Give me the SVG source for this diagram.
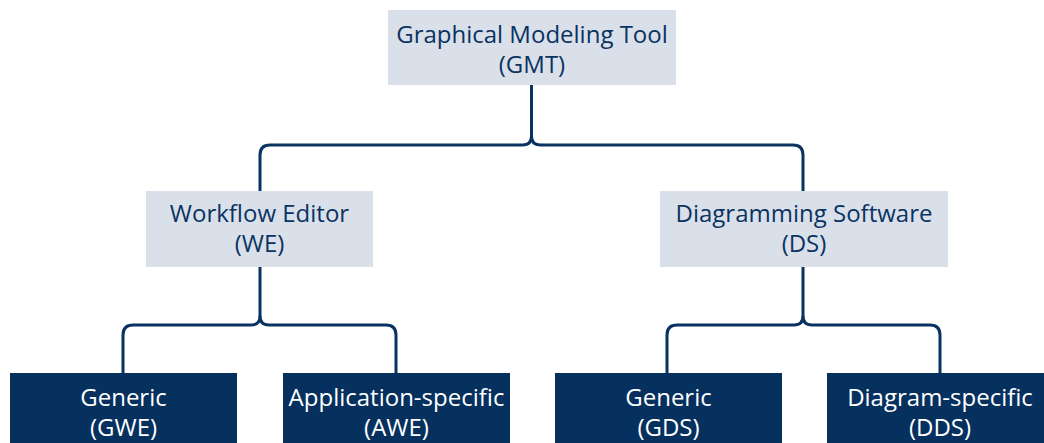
<svg xmlns="http://www.w3.org/2000/svg" width="1044" height="443" viewBox="0 0 1044 443">
  <style>
    .light { fill: #dae0ea; }
    .dark { fill: #06305e; }
    .lbl { font-family: "Open Sans", "Noto Sans", sans-serif; font-size: 24px; text-anchor: middle; }
    .lbl-dark { fill: #0b3361; }
    .lbl-light { fill: #ffffff; }
    .wire { fill: none; stroke: #0b3361; stroke-width: 3; }
  </style>
  <rect width="1044" height="443" fill="#ffffff"/>

  <g id="connectors">
    <!-- GMT to WE / DS -->
    <path class="wire" d="M531.5,85 V136 Q531.5,145 522.5,145 H270 Q260,145 260,155 V191"/>
    <path class="wire" d="M531.5,136 Q531.5,145 540.5,145 H793 Q803,145 803,155 V191"/>
    <!-- WE to GWE / AWE -->
    <path class="wire" d="M260,267 V316 Q260,325 251,325 H133 Q123,325 123,335 V373"/>
    <path class="wire" d="M260,316 Q260,325 269,325 H386 Q396,325 396,335 V373"/>
    <!-- DS to GDS / DDS -->
    <path class="wire" d="M803,267 V316 Q803,325 794,325 H677 Q667,325 667,335 V373"/>
    <path class="wire" d="M803,316 Q803,325 812,325 H930 Q940,325 940,335 V373"/>
  </g>

  <g id="gmt">
    <rect class="light" x="388" y="10" width="288" height="75"/>
    <text class="lbl lbl-dark" x="532" y="43">Graphical Modeling Tool</text>
    <text class="lbl lbl-dark" x="532" y="73">(GMT)</text>
  </g>

  <g id="we">
    <rect class="light" x="146" y="191" width="227" height="76"/>
    <text class="lbl lbl-dark" x="259.5" y="222">Workflow Editor</text>
    <text class="lbl lbl-dark" x="259.5" y="252">(WE)</text>
  </g>

  <g id="ds">
    <rect class="light" x="660" y="191" width="288" height="76"/>
    <text class="lbl lbl-dark" x="804" y="222">Diagramming Software</text>
    <text class="lbl lbl-dark" x="804" y="252">(DS)</text>
  </g>

  <g id="gwe">
    <rect class="dark" x="10" y="373" width="227" height="70"/>
    <text class="lbl lbl-light" x="123.5" y="406">Generic</text>
    <text class="lbl lbl-light" x="123.5" y="436">(GWE)</text>
  </g>

  <g id="awe">
    <rect class="dark" x="283" y="373" width="227" height="70"/>
    <text class="lbl lbl-light" x="396.5" y="406">Application-specific</text>
    <text class="lbl lbl-light" x="396.5" y="436">(AWE)</text>
  </g>

  <g id="gds">
    <rect class="dark" x="555" y="373" width="227" height="70"/>
    <text class="lbl lbl-light" x="668.5" y="406">Generic</text>
    <text class="lbl lbl-light" x="668.5" y="436">(GDS)</text>
  </g>

  <g id="dds">
    <rect class="dark" x="827" y="373" width="217" height="70"/>
    <text class="lbl lbl-light" x="940" y="406">Diagram-specific</text>
    <text class="lbl lbl-light" x="940" y="436">(DDS)</text>
  </g>
</svg>
